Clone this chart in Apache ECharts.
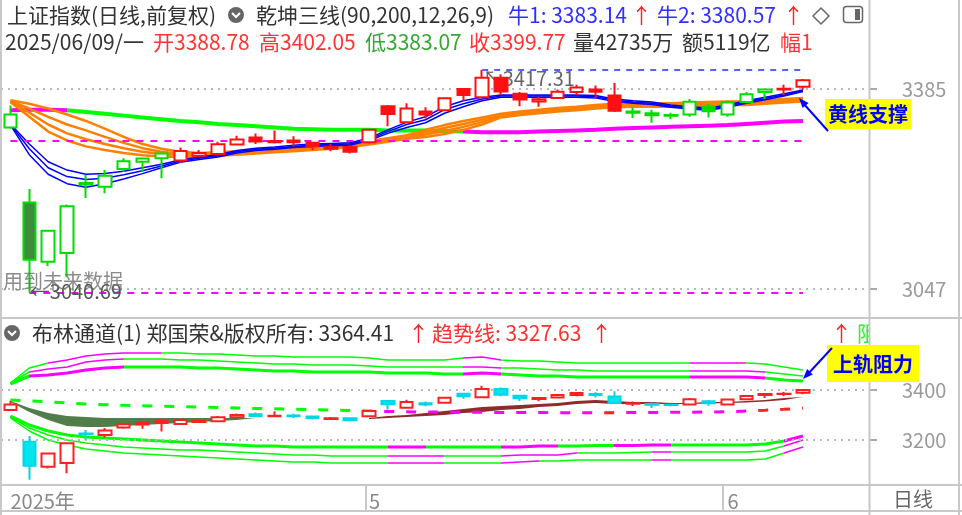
<!DOCTYPE html>
<html><head><meta charset="utf-8">
<script src="https://cdn.jsdelivr.net/npm/echarts@6/dist/echarts.min.js"></script>
<style>html,body{margin:0;padding:0;background:#fff}#c{width:962px;height:515px}</style>
</head><body><div id="c"></div><script>
// ---------- data ----------
const dates = ['2025-04-03','2025-04-07','2025-04-08','2025-04-09','2025-04-10','2025-04-11','2025-04-14','2025-04-15','2025-04-16','2025-04-17',
'2025-04-18','2025-04-21','2025-04-22','2025-04-23','2025-04-24','2025-04-25','2025-04-28','2025-04-29','2025-04-30','2025-05-06',
'2025-05-07','2025-05-08','2025-05-09','2025-05-12','2025-05-13','2025-05-14','2025-05-15','2025-05-16','2025-05-19','2025-05-20',
'2025-05-21','2025-05-22','2025-05-23','2025-05-26','2025-05-27','2025-05-28','2025-05-29','2025-05-30','2025-06-03','2025-06-04',
'2025-06-05','2025-06-06','2025-06-09'];
const padSlots = ['pad1','pad2','pad3'];
const openP = [3320,3193,3093,3108,3226,3220,3250,3262,3268,3264, 3272,3275,3291,3303,3295,3298,3294,3284,3287,3295, 3356,3329,3347,3349,3385,3371,3404,3377,3364,3370, 3380,3384,3374,3345,3344,3341,3342,3355,3342,3363, 3380,3384,3388.78];
const closeP = [3342.01,3096.58,3145.55,3186.81,3223.64,3238.23,3262.81,3267.66,3276.00,3280.34, 3276.73,3291.43,3299.76,3296.36,3297.29,3295.06,3288.41,3286.65,3279.03,3316.11, 3342.67,3352.00,3341.97,3369.24,3374.87,3403.95,3380.82,3367.46,3367.58,3380.48, 3387.57,3380.19,3348.37,3346.84,3340.69,3339.93,3363.45,3347.49,3361.98,3376.20, 3384.10,3385.36,3399.77];
const lowP = [3318,3040.69,3086,3067,3201,3209,3245,3245,3234,3260, 3270,3273,3290,3292,3293,3288,3282,3280,3276,3293, 3322,3327,3335,3348,3365,3370,3375,3356,3355,3368, 3375,3370,3346,3336,3328,3334,3338,3337,3338,3361, 3368,3375,3383.07];
const highP = [3357,3216,3147,3190,3240,3248,3268,3269,3277,3286, 3282,3296,3306,3310,3315,3305,3296,3292,3290,3318, 3358,3361,3354,3371,3386,3417.31,3410,3380,3372,3384, 3392,3391,3395,3354,3350,3345,3368,3360,3365,3380, 3386,3392,3402.05];
const mainTone = ['g','g','g','g','g','g','g','g','g','r', 'r','r','r','r','r','r','r','r','r','r', 'r','r','r','r','r','r','r','r','r','r', 'r','r','r','g','g','g','g','g','g','g', 'g','r','r'];

const longLine = [3349,3350,3350,3349,3346,3343,3340,3337,3334,3331, 3329,3326,3324,3322,3320,3318,3317,3316,3316,3316, 3315,3315,3315,3314,3313,3312,3312,3312,3313,3314, 3315,3316,3318,3319,3320,3321,3322,3323,3324,3326, 3328,3330,3331];
const blueA = [3326,3292,3262,3248,3241,3242,3246,3252,3258,3265, 3270,3274,3281,3285,3287,3290,3292,3293,3294,3302, 3316,3329,3338,3355,3365,3371,3375,3375,3375,3375, 3375,3374,3368,3365,3363,3358,3355,3353,3358,3365, 3371,3377,3383.14];
const blueB = [3325,3284,3252,3237,3232,3234,3240,3247,3255,3263, 3268,3272,3279,3283,3285,3288,3290,3291,3292,3300, 3313,3325,3333,3350,3360,3368,3373,3373,3373,3373, 3373,3372,3366,3363,3361,3356,3353,3351,3356,3363, 3369,3375,3381.8];
const blueC = [3324,3274,3241,3225,3219,3225,3233,3242,3252,3261, 3266,3270,3277,3281,3283,3286,3288,3289,3290,3298, 3310,3320,3328,3344,3355,3365,3371,3371,3371,3371, 3371,3370,3364,3361,3359,3354,3351,3349,3354,3361, 3367,3373,3380.57];
const orange1 = [3366,3360,3352,3342,3331,3318,3304,3292,3284,3279, 3277,3278,3280,3282,3284,3286,3288,3290,3293,3297, 3302,3307,3316,3324,3331,3337,3343,3347,3350,3353, 3355,3358,3360,3361,3361,3361,3362,3363,3364,3364, 3366,3368,3370];
const orange2 = [3365,3352,3338,3325,3315,3304,3294,3285,3279,3276, 3275,3276,3278,3280,3282,3284,3286,3288,3291,3295, 3300,3305,3312,3319,3326,3333,3341,3345,3348,3351, 3353,3356,3358,3359,3359,3359,3360,3361,3362,3362, 3364,3366,3368];
const orange3 = [3364,3345,3325,3310,3300,3292,3285,3279,3275,3273, 3273,3274,3276,3278,3280,3282,3284,3286,3289,3293, 3298,3303,3308,3314,3321,3329,3339,3343,3346,3349, 3351,3354,3356,3357,3357,3357,3358,3359,3360,3360, 3362,3364,3366];
const orange4 = [3363,3338,3313,3298,3288,3282,3277,3273,3271,3270, 3271,3272,3274,3276,3278,3280,3282,3284,3287,3291, 3296,3301,3304,3309,3316,3325,3337,3341,3344,3347, 3349,3352,3354,3355,3355,3355,3356,3357,3358,3358, 3360,3362,3364];
const supportLevel = 3297;

const bollUpTop = [3428,3488,3508,3520,3536,3544,3548,3548,3548,3548, 3544,3544,3540,3536,3536,3532,3532,3532,3532,3528, 3520,3520,3520,3520,3528,3532,3520,3516,3516,3512, 3508,3508,3508,3508,3508,3508,3508,3508,3508,3508, 3504,3492,3480];
const bollUpMid = [3428,3472,3484,3492,3512,3520,3524,3524,3524,3520, 3520,3516,3512,3508,3504,3504,3500,3500,3500,3496, 3492,3492,3492,3492,3492,3492,3488,3488,3484,3480, 3480,3476,3476,3476,3476,3476,3476,3476,3476,3476, 3472,3464,3456];
const bollUpThick = [3424,3456,3460,3468,3480,3488,3492,3492,3492,3492, 3488,3488,3484,3480,3476,3476,3472,3472,3472,3472, 3468,3468,3468,3464,3464,3468,3464,3460,3456,3456, 3452,3452,3452,3452,3452,3452,3452,3452,3452,3452, 3448,3440,3436];
const bollLowThick = [3296,3260,3236,3220,3212,3208,3204,3200,3196,3192, 3188,3184,3180,3176,3176,3172,3172,3172,3172,3172, 3172,3172,3172,3172,3172,3172,3172,3172,3176,3176, 3176,3178,3178,3178,3180,3180,3180,3180,3180,3180, 3184,3196,3216];
const bollLowMid = [3292,3248,3220,3200,3188,3180,3172,3168,3164,3160, 3160,3156,3152,3148,3144,3140,3140,3136,3136,3136, 3136,3136,3136,3136,3136,3136,3136,3140,3140,3140, 3148,3148,3148,3150,3152,3152,3152,3152,3152,3152, 3156,3176,3200];
const bollLowBot = [3288,3236,3200,3180,3164,3156,3148,3144,3140,3136, 3132,3128,3124,3120,3116,3112,3112,3108,3108,3108, 3108,3108,3108,3108,3108,3108,3108,3112,3116,3116, 3120,3120,3120,3120,3120,3120,3120,3120,3120,3120, 3124,3148,3172];
const trendLine = [3360,3357,3352,3348,3344,3341,3339,3337,3335,3333, 3332,3330,3328,3326,3325,3323,3322,3320,3318,3316, 3314,3313,3312,3312,3311,3311,3310,3310,3310,3309, 3309,3309,3309,3310,3310,3311,3311,3312,3313,3316, 3319,3323,3327.63];
const greenBandStart = 0;
const greenBandHi = [3356,3328,3308,3296,3292,3288,3288,3288,3288,3288,3288,3288,3288,3288];
const greenBandLo = [3352,3312,3280,3256,3252,3252,3256,3260,3264,3268,3272,3276,3280,3284];
const brownBandStart = 19;
const brownBandHi = [3288,3296,3300,3308,3316,3324,3332,3336,3340,3344, 3348,3356,3360,3356,3352,3352,3348,3348,3352,3352, 3356,3360,3368,3372];
const brownBandLo = [3284,3288,3292,3296,3300,3308,3312,3320,3324,3332, 3336,3344,3348,3344,3344,3344,3344,3344,3346,3348, 3350,3354,3360,3364];

const yTicksMain = [3047, 3385];
const yTicksSub = [3200, 3400];
const xTickMarks = [[0,'2025年'],[19,'5'],[38,'6']];

// ---------- styles ----------
const FONT = '"Noto Sans CJK SC","Noto Sans",sans-serif';
const HF = 21; // header font size
const G = '#00ff00', M = '#ff00ff', R = '#ff2020';
const segLong = [[0,3,M],[3,24,G],[24,99,M]];
const segUpTop = [[0,1.5,G],[1.5,8,M],[8,24,G],[24,25.5,M],[25.5,36,G],[36,38.5,M],[38.5,99,G]];
const segUpMid = [[0,1,G],[1,6,M],[6,24,G],[24,25.5,M],[25.5,36,G],[36,40,M],[40,99,G]];
const segUpThick = [[0,1,G],[1,6,M],[6,24,G],[24,25.5,M],[25.5,36,G],[36,40,M],[40,99,G]];
const segLowThick = [[0,20,G],[20,21.5,M],[21.5,26,G],[26,29,M],[29,32,G],[32,35,M],[35,41,G],[41,99,M]];
const segLowMid = [[0,20,G],[20,23,M],[23,26,G],[26,29.5,M],[29.5,33.5,G],[33.5,35,M],[35,40.5,G],[40.5,99,M]];
const segLowBot = [[0,20,G],[20,23,M],[23,26,G],[26,27.5,M],[27.5,33.5,G],[33.5,35,M],[35,40.5,G],[40.5,99,M]];
const segTrend = [[0,18.5,G],[18.5,30.5,M],[30.5,31.5,R],[31.5,38.5,M],[38.5,99,R]];

const N = dates.length;
const cats = dates.concat(padSlots);
const tickLabelAt = {}; xTickMarks.forEach(t => tickLabelAt[t[0]] = t[1]);

function mainStyle(i) {
  const base = mainTone[i] === 'r' ? '#ff1010' : '#00dd00';
  const up = closeP[i] >= openP[i];
  const heavy = Math.abs(closeP[i] - openP[i]) > 50;
  const fill = up ? '#ffffff' : (heavy ? '#3d8b3d' : base);
  return {color: fill, color0: fill, borderColor: base, borderColor0: base};
}
const mainCandles = dates.map((d,i) => ({value:[openP[i], closeP[i], lowP[i], highP[i]], itemStyle: mainStyle(i)}));
const subCandles = dates.map((d,i) => [openP[i], closeP[i], lowP[i], highP[i]]);

function pad(arr, start) { const out = new Array(N).fill('-'); arr.forEach((v,k) => out[start+k] = v); return out; }
function L(data, grid, color, width, z, extra) {
  const ls = {width};
  if (color) ls.color = color;
  return Object.assign({type:'line', xAxisIndex:grid, yAxisIndex:grid, data, symbol:'none', silent:true, z: z || 2,
    emphasis:{disabled:true}, lineStyle: ls}, extra || {});
}
function vm(seriesIndex, segs) {
  return {type:'piecewise', show:false, dimension:0, seriesIndex, pieces: segs.map(s => ({gte:s[0], lt:s[1], color:s[2]}))};
}
const hiIdx = highP.indexOf(Math.max.apply(null, highP));
const loIdx = lowP.indexOf(Math.min.apply(null, lowP));
const hiVal = highP[hiIdx], loVal = lowP[loIdx];
const dotted = {color:'#b8b8b8', type:[2,5], width:2};

const series = [
  L(longLine, 0, null, 4, 2),                                // 0
  L(orange1, 0, '#ff8000', 2.5, 3),                          // 1
  L(orange2, 0, '#ff8000', 2.5, 3),                          // 2
  L(orange3, 0, '#ff8000', 2.5, 3),                          // 3
  L(orange4, 0, '#ff8000', 2.5, 3),                          // 4
  L(blueA, 0, '#0000ff', 1.5, 4),                            // 5
  L(blueB, 0, '#0000ff', 1.5, 4),                            // 6
  L(blueC, 0, '#0000ff', 1.5, 4),                            // 7
  { type:'candlestick', xAxisIndex:0, yAxisIndex:0, data: mainCandles, barWidth:13, z:5, silent:true,
    itemStyle:{borderWidth:2}, emphasis:{disabled:true},
    markLine:{ silent:true, symbol:['none','none'], label:{show:false}, animation:false,
      data: yTicksMain.map(v => ({yAxis:v, lineStyle:dotted})).concat([
        [{coord:[0, supportLevel], lineStyle:{color:M, type:[7,7], width:2}}, {coord:[N-1, supportLevel]}],
        [{coord:[loIdx, loVal], lineStyle:{color:M, type:[7,7], width:2}}, {coord:[N-1, loVal]}],
        [{coord:[hiIdx, hiVal], lineStyle:{color:'#2030ff', type:[6,6], width:1.5}}, {coord:[N-1, hiVal]}]
      ])},
    markPoint:{ silent:true, symbol:'circle', symbolSize:1, itemStyle:{color:'rgba(0,0,0,0)'}, animation:false,
      data:[
        {coord:[hiIdx, hiVal], label:{show:true, position:'right', distance:0, offset:[0,9], formatter:'↖' + hiVal.toFixed(2), color:'#666', fontSize:20, fontFamily:FONT}},
        {coord:[loIdx, loVal], label:{show:true, position:'right', distance:0, offset:[0,-1], formatter:'←' + loVal.toFixed(2), color:'#555', fontSize:20, fontFamily:FONT}}
      ]}
  },                                                          // 8
  L(pad(greenBandLo, greenBandStart), 1, 'rgba(0,0,0,0)', 0, 1, {stack:'gb', lineStyle:{opacity:0, width:0}}),   // 9
  L(pad(greenBandHi.map((v,k) => v - greenBandLo[k]), greenBandStart), 1, 'rgba(0,0,0,0)', 0, 1, {stack:'gb', lineStyle:{opacity:0, width:0}, areaStyle:{color:'#517d4b', opacity:1}}), // 10
  L(pad(brownBandLo, brownBandStart), 1, 'rgba(0,0,0,0)', 0, 1, {stack:'bb', lineStyle:{opacity:0, width:0}}),   // 11
  L(pad(brownBandHi.map((v,k) => v - brownBandLo[k]), brownBandStart), 1, 'rgba(0,0,0,0)', 0, 1, {stack:'bb', lineStyle:{opacity:0, width:0}, areaStyle:{color:'#8e2b2b', opacity:1}}), // 12
  L(bollUpTop, 1, null, 1.5, 2),                             // 13
  L(bollUpMid, 1, null, 1.5, 2),                             // 14
  L(bollUpThick, 1, null, 3, 2),                             // 15
  L(bollLowThick, 1, null, 3, 2),                            // 16
  L(bollLowMid, 1, null, 1.5, 2),                            // 17
  L(bollLowBot, 1, null, 1.5, 2),                            // 18
  L(trendLine, 1, null, 3, 2, {lineStyle:{width:3, type:[10,12]}}), // 19
  { type:'candlestick', xAxisIndex:1, yAxisIndex:1, data: subCandles, barWidth:13, z:5, silent:true,
    emphasis:{disabled:true},
    itemStyle:{color:'#ffffff', color0:'#00e5ee', borderColor:'#ff2020', borderColor0:'#00d6e6', borderWidth:2},
    markLine:{ silent:true, symbol:['none','none'], label:{show:false}, animation:false,
      data: yTicksSub.map(v => ({yAxis:v, lineStyle:dotted}))}
  }                                                           // 20
];

const visualMap = [vm(0, segLong), vm(13, segUpTop), vm(14, segUpMid), vm(15, segUpThick),
  vm(16, segLowThick), vm(17, segLowMid), vm(18, segLowBot), vm(19, segTrend)];

// ---------- text / frame ----------
function T(x, y, text, fill, size, extra, z) {
  return {type:'text', x, y, z: z || 10, silent:true,
    style: Object.assign({text, fill, fontSize: size || HF, fontFamily: FONT, align:'left', verticalAlign:'middle'}, extra || {})};
}
function Ln(x1, y1, x2, y2, color, w, z) {
  return {type:'line', z: z || 12, silent:true, shape:{x1,y1,x2,y2}, style:{stroke:color, lineWidth:w}};
}
const frame = '#c8c8c8';
const graphic = [
  // header row 1
  T(7, 15, '上证指数(日线,前复权)', '#333'),
  {type:'circle', z:10, shape:{cx:236, cy:15, r:8}, style:{fill:'#666'}},
  {type:'polyline', z:11, shape:{points:[[232,13],[236,17],[240,13]]}, style:{stroke:'#fff', lineWidth:2, fill:null}},
  T(256, 15, '乾坤三线(90,200,12,26,9)', '#333'),
  T(508, 15, '牛1: 3383.14', '#2f2fff'),
  T(631, 15, '↑', '#ff2020'),
  T(657, 15, '牛2: 3380.57', '#2f2fff'),
  T(783, 15, '↑', '#ff2020'),
  {type:'polygon', z:10, shape:{points:[[813,16],[821,8],[829,16],[821,24]]}, style:{stroke:'#666', lineWidth:1.5, fill:null}},
  {type:'rect', z:10, shape:{x:843.5, y:6.5, width:19, height:16, r:3}, style:{stroke:'#666', lineWidth:1.5, fill:null}},
  {type:'rect', z:10, shape:{x:855, y:9, width:5, height:11}, style:{fill:'#666'}},
  // header row 2
  T(5, 42, '2025/06/09/一', '#333'),
  T(153, 42, '开3388.78', '#ff3333'),
  T(259, 42, '高3402.05', '#ff3333'),
  T(365, 42, '低3383.07', '#33a833'),
  T(469, 42, '收3399.77', '#ff3333'),
  T(573, 42, '量42735万', '#333'),
  T(682, 42, '额5119亿', '#333'),
  T(780, 42, '幅1', '#ff3333'),
  // lower header
  {type:'circle', z:10, shape:{cx:12, cy:333, r:8}, style:{fill:'#666'}},
  {type:'polyline', z:11, shape:{points:[[8,331],[12,335],[16,331]]}, style:{stroke:'#fff', lineWidth:2, fill:null}},
  T(32, 333, '布林通道(1) 郑国荣&版权所有: 3364.41', '#333'),
  T(408, 333, '↑', '#ff2020'),
  T(432, 333, '趋势线: 3327.63', '#ff3030'),
  T(591, 333, '↑', '#ff2020'),
  T(831, 333, '↑', '#ff2020'),
  T(857, 333, '阻', '#33ee33'),
  {type:'rect', z:11, shape:{x:870, y:321, width:88, height:22}, style:{fill:'#fff'}},
  // note text
  T(3, 281, '用到未来数据', 'rgba(110,110,110,0.8)', 20),
  // callouts
  {type:'rect', z:13, shape:{x:825, y:99, width:86, height:30}, style:{fill:'#ffff00'}},
  T(868, 114, '黄线支撑', '#0000ff', 20, {align:'center', fontWeight:'bold'}, 14),
  Ln(828, 131, 803, 103, '#0000ff', 2, 13),
  {type:'polygon', z:13, shape:{points:[[799,98],[808.6,102.9],[802.6,108.1]]}, style:{fill:'#0000ff'}},
  {type:'rect', z:13, shape:{x:827, y:345, width:92, height:37}, style:{fill:'#ffff00'}},
  T(873, 364, '上轨阻力', '#0000ff', 20, {align:'center', fontWeight:'bold'}, 14),
  Ln(832, 348, 807, 375, '#0000ff', 2, 13),
  {type:'polygon', z:13, shape:{points:[[803,379],[812.8,374.6],[807.1,369.0]]}, style:{fill:'#0000ff'}},
  // frame lines
  Ln(1, 0, 1, 515, frame, 2),
  Ln(869.5, 0, 869.5, 515, frame, 2),
  Ln(959, 0, 959, 515, frame, 2),
  Ln(0, 318, 962, 318, frame, 2),
  Ln(0, 485, 962, 485, frame, 2),
  Ln(0, 511, 962, 511, frame, 2),
  Ln(366, 485, 366, 511, frame, 2),
  Ln(723, 485, 723, 511, frame, 2),
  T(893, 499, '日线', '#666', 20)
];

const axisLabelY = (vals) => ({customValues: vals, margin: 33, color:'#9a9a9a', fontSize:20, fontFamily:FONT, align:'left', formatter: v => String(v)});
const axisTickY = (vals) => ({show:true, customValues: vals, length:8, lineStyle:{color:'#aaa', width:2}});

const option = {
  animation: false,
  backgroundColor: '#ffffff',
  grid: [
    {left:1, right:93, top:60, height:250},
    {left:1, right:93, top:340, height:150}
  ],
  xAxis: [
    {type:'category', gridIndex:0, data:cats, boundaryGap:true, show:false},
    {type:'category', gridIndex:1, data:cats, boundaryGap:true, axisLine:{show:false}, axisTick:{show:false}, splitLine:{show:false},
     axisLabel:{interval:0, margin:1, align:'left', color:'#888', fontSize:20, fontFamily:FONT,
       formatter:(v, i) => tickLabelAt[i] || ''}}
  ],
  yAxis: [
    {type:'value', gridIndex:0, position:'right', min:3011.51, max:3434.01, splitLine:{show:false}, axisLine:{show:false},
     axisTick: axisTickY(yTicksMain), axisLabel: axisLabelY(yTicksMain)},
    {type:'value', gridIndex:1, position:'right', min:3000, max:3600, splitLine:{show:false}, axisLine:{show:false},
     axisTick: axisTickY(yTicksSub), axisLabel: axisLabelY(yTicksSub)}
  ],
  visualMap,
  series,
  graphic
};
const chart = echarts.init(document.getElementById('c'), null, {renderer:'canvas'});
chart.setOption(option);
</script></body></html>
